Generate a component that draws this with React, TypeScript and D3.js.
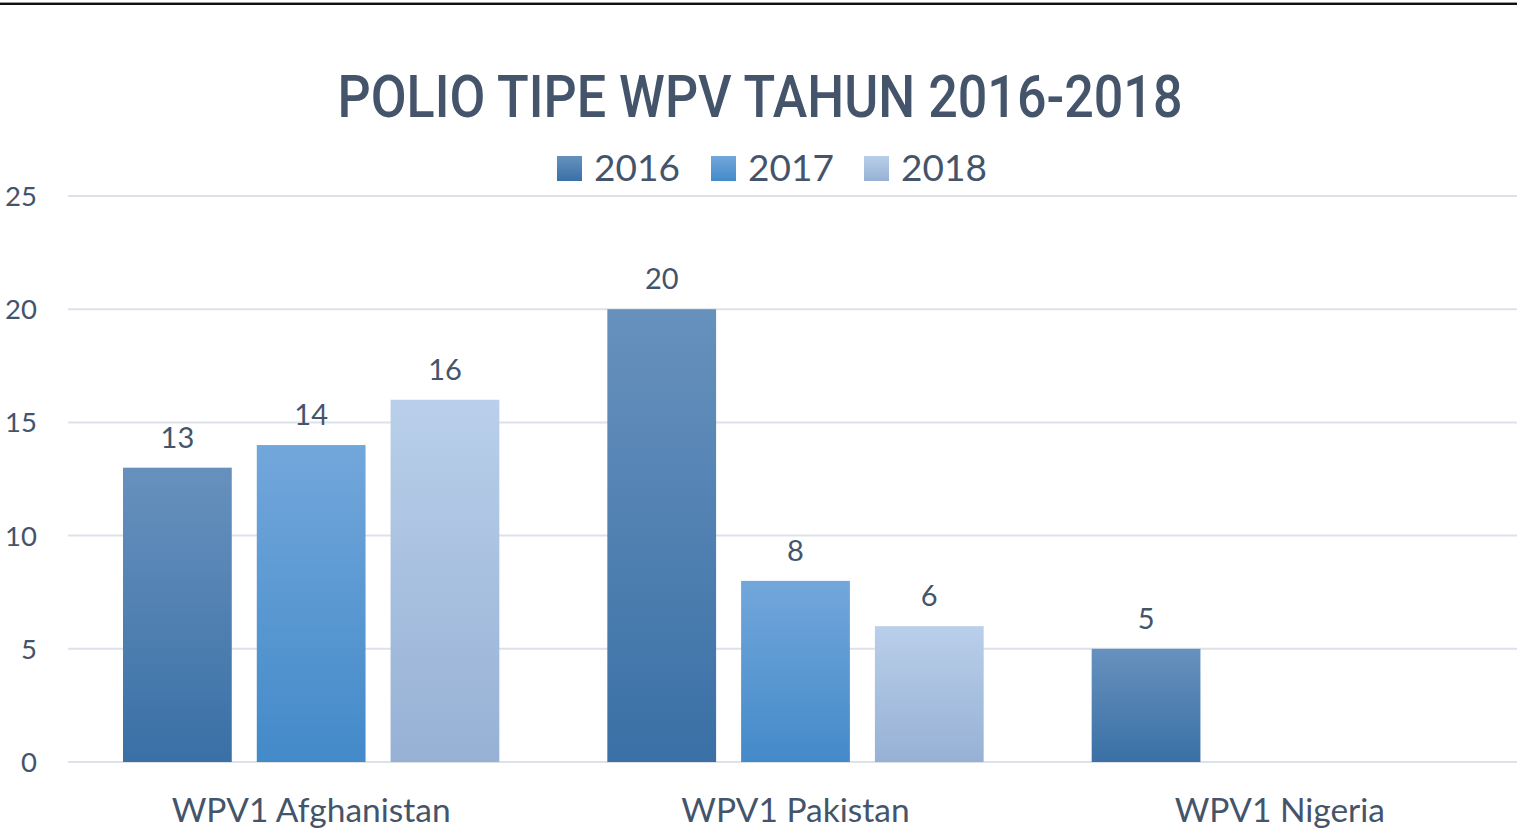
// App.tsx - polio WPV bar chart 2016-2018
import React from "react";
import * as d3 from "d3";

const categories = ["WPV1 Afghanistan", "WPV1 Pakistan", "WPV1 Nigeria"];
const years = ["2016", "2017", "2018"];
const values2016 = [13, 20, 5];
const values2017 = [14, 8, null];
const values2018 = [16, 6, null];
const yTicks = [0, 5, 10, 15, 20, 25];

const series = [
  { name: years[0], values: values2016, top: "#6791bd", bottom: "#3a70a6" },
  { name: years[1], values: values2017, top: "#72a7db", bottom: "#438ac9" },
  { name: years[2], values: values2018, top: "#b9cfea", bottom: "#97b1d5" },
];

const W = 1517;
const H = 837;
const textColor = "#44546a";
const gridColor = "#dde2ea";
const font = "Lato, 'Open Sans', sans-serif";

export default function App() {
  const y = d3.scaleLinear().domain([0, 25]).range([762, 196]);
  const x0 = d3
    .scaleBand<string>()
    .domain(categories)
    .range([69, 1522])
    .paddingInner(0)
    .paddingOuter(0);
  const x1 = d3
    .scaleBand<string>()
    .domain(years)
    .range([54, x0.bandwidth() - 54])
    .paddingInner(0.187)
    .paddingOuter(0);

  return (
    <svg
      width={W}
      height={H}
      style={{ position: "absolute", left: 0, top: 0, display: "block", background: "#fff" }}
    >
      <defs>
        {series.map((s, i) => (
          <linearGradient key={i} id={`grad${i}`} x1="0" y1="0" x2="0" y2="1">
            <stop offset="0%" stopColor={s.top} />
            <stop offset="100%" stopColor={s.bottom} />
          </linearGradient>
        ))}
      </defs>

      {/* top border */}
      <rect x={0} y={2} width={W} height={1} fill="#9a9a9a" />
      <rect x={0} y={3} width={W} height={2} fill="#111" />

      {/* title */}
      <text
        x={760}
        y={117}
        textAnchor="middle"
        fill={textColor}
        fontFamily="Roboto, sans-serif"
        fontWeight={500}
        fontSize={60}
        textLength={845}
        lengthAdjust="spacingAndGlyphs"
      >
        POLIO TIPE WPV TAHUN 2016-2018
      </text>

      {/* legend */}
      {series.map((s, i) => {
        const lx = [557, 711, 864][i];
        return (
          <g key={s.name}>
            <rect x={lx} y={156} width={25} height={25} fill={`url(#grad${i})`} />
            <text x={lx + 37} y={181} fill={textColor} fontFamily={font} fontSize={37}>
              {s.name}
            </text>
          </g>
        );
      })}

      {/* grid + y ticks */}
      {yTicks.map((t) => (
        <g key={t}>
          <line x1={68} x2={W} y1={y(t)} y2={y(t)} stroke={gridColor} strokeWidth={2} />
          <text
            x={37}
            y={y(t) + 10}
            textAnchor="end"
            fill={textColor}
            fontFamily={font}
            fontSize={27.5}
          >
            {t}
          </text>
        </g>
      ))}

      {/* bars */}
      {categories.map((c, ci) => (
        <g key={c} transform={`translate(${x0(c)},0)`}>
          {series.map((s, si) => {
            const v = s.values[ci];
            if (v == null) return null;
            const bx = x1(s.name) as number;
            return (
              <g key={s.name}>
                <rect
                  x={bx}
                  y={y(v)}
                  width={x1.bandwidth()}
                  height={y(0) - y(v)}
                  fill={`url(#grad${si})`}
                />
                <text
                  x={bx + x1.bandwidth() / 2}
                  y={y(v) - 20}
                  textAnchor="middle"
                  fill={textColor}
                  fontFamily={font}
                  fontSize={29}
                >
                  {v}
                </text>
              </g>
            );
          })}
          <text
            x={x0.bandwidth() / 2}
            y={822}
            textAnchor="middle"
            fill={textColor}
            fontFamily={font}
            fontSize={33.5}
          >
            {c}
          </text>
        </g>
      ))}
    </svg>
  );
}

// eof
